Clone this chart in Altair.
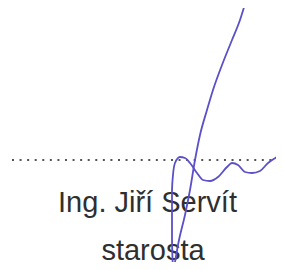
import altair as alt
import pandas as pd

# Signature strokes (x, y in picture pixels, y downward)
stroke1_x = [245, 240, 232, 222, 213, 207, 200, 195, 190, 185, 179, 174]
stroke1_y = [4, 20, 40, 65, 90, 110, 135, 160, 190, 215, 240, 268]
stroke2_x = [173, 172, 172, 172, 173, 175, 180, 185, 190, 197, 203, 210, 218, 227, 232, 238, 245, 252, 260, 268, 277, 284]
stroke2_y = [268, 240, 215, 190, 175, 163, 157, 158, 163, 173, 180, 181, 177, 167, 163, 165, 172, 173, 171, 163, 157, 153]

# Dotted signature line
dots_start = [12]
dots_end = [284]
dots_y = [160]

# Text lines
labels = ["Ing. Jiří Servít", "starosta"]
label_x = [147.5, 153]
label_y = [212, 260]

rows = []
for name, xs_, ys_ in (("a", stroke1_x, stroke1_y), ("b", stroke2_x, stroke2_y)):
    for i, (x, y) in enumerate(zip(xs_, ys_)):
        rows.append({"s": name, "i": i, "x": x, "y": y})
sig = pd.DataFrame(rows)
dots = pd.DataFrame({"x": dots_start, "x2": dots_end, "y": dots_y})
txt = pd.DataFrame({"t": labels, "x": label_x, "y": label_y})

xs = alt.Scale(domain=[8, 276], nice=False, zero=False)
ys = alt.Scale(domain=[8, 262], nice=False, zero=False, reverse=True)

dotted = alt.Chart(dots).mark_rule(
    color="#555555", strokeWidth=2, strokeDash=[2, 5.57], strokeCap="butt"
).encode(
    x=alt.X("x:Q", scale=xs, axis=None),
    x2="x2:Q",
    y=alt.Y("y:Q", scale=ys, axis=None),
)

text = alt.Chart(txt).mark_text(
    font="Liberation Sans", fontSize=29, color="#2f2f2f",
    align="center", baseline="alphabetic"
).encode(
    x=alt.X("x:Q", scale=xs, axis=None),
    y=alt.Y("y:Q", scale=ys, axis=None),
    text="t:N",
)

lines = alt.Chart(sig).mark_line(
    color="#5a50c8", strokeWidth=1.8, interpolate="monotone"
).encode(
    x=alt.X("x:Q", scale=xs, axis=None),
    y=alt.Y("y:Q", scale=ys, axis=None),
    detail="s:N",
    order="i:Q",
)

chart = alt.layer(dotted, text, lines).properties(
    width=268, height=254, padding=0,
    autosize=alt.AutoSizeParams(type="none"),
).configure(background="white").configure_view(stroke=None)

chart.save("out.html", embed_options={"renderer": "svg", "actions": False})
